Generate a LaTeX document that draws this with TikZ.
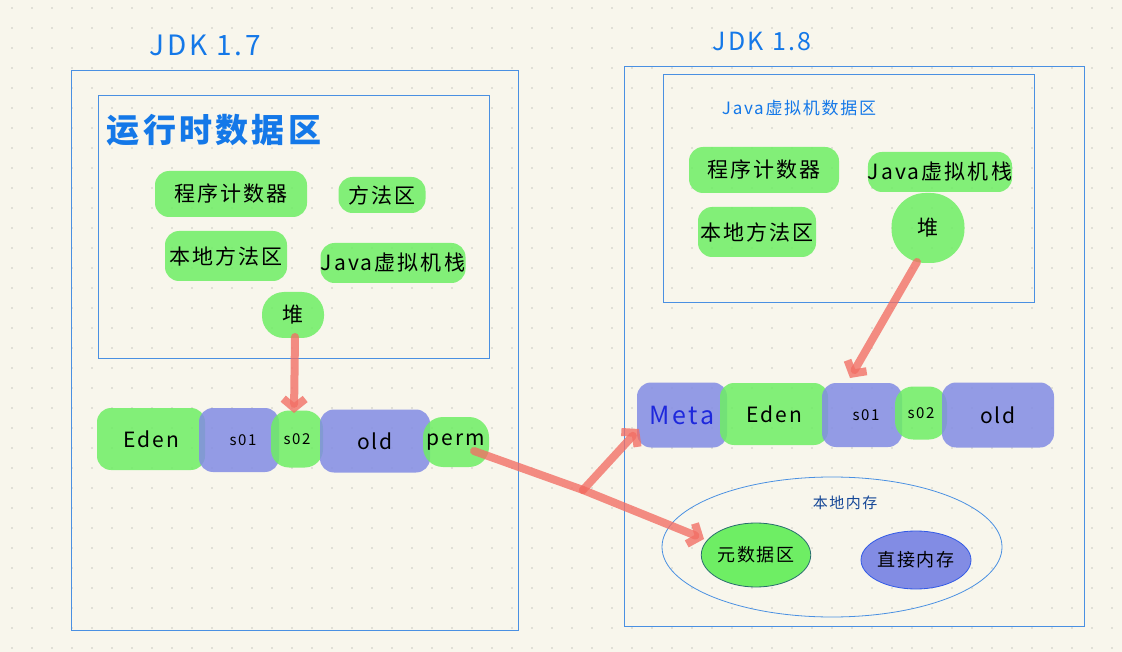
\documentclass[tikz,border=0pt]{standalone}
\usepackage{fontspec}
\setmainfont{Noto Sans CJK SC}
\newfontfamily\hand[LetterSpace=10]{Noto Sans CJK SC}
\usetikzlibrary{arrows.meta,shapes.geometric}
\definecolor{paper}{RGB}{248,246,236}
\definecolor{griddot}{RGB}{200,200,192}
\definecolor{boxblue}{RGB}{74,144,226}
\definecolor{titleblue}{RGB}{20,120,232}
\definecolor{hlgreen}{RGB}{110,238,100}
\definecolor{hlblue}{RGB}{130,140,228}
\definecolor{arrowred}{RGB}{242,110,100}
\definecolor{metablue}{RGB}{30,40,220}
\definecolor{navy}{RGB}{20,70,150}
\definecolor{rimgreen}{RGB}{40,110,110}
\definecolor{rimblue}{RGB}{50,90,230}
\tikzset{
  box/.style={draw=boxblue, line width=0.9pt, inner sep=0pt},
  gblob/.style={fill=hlgreen, fill opacity=0.85, text opacity=1, rounded corners=14pt, inner sep=0pt, text=black, font=\hand\fontsize{21}{23}\selectfont},
  bblob/.style={fill=hlblue, fill opacity=0.85, text opacity=1, rounded corners=14pt, inner sep=0pt, text=black, font=\hand\fontsize{21}{23}\selectfont},
  small/.style={font=\hand\fontsize{15}{17}\selectfont},
  title/.style={text=titleblue, inner sep=0pt},
  redarrow/.style={draw=arrowred, line width=8pt, line cap=round, line join=round, draw opacity=0.78, -{Straight Barb[length=9pt,width=22pt]}},
  redline/.style={draw=arrowred, line width=8pt, line cap=round, draw opacity=0.78}
}
\begin{document}
\begin{tikzpicture}[x=1pt,y=-1pt]
\useasboundingbox (0,0) rectangle (1122,652);
\fill[paper] (0,0) rectangle (1122,652);
\foreach \i in {0,...,55} {\foreach \j in {0,...,32} {\fill[griddot] (12+20*\i, 8+20*\j) circle (0.9pt);}}

% ---------------- JDK 1.7 ----------------
\node[title, font=\hand\fontsize{28}{30}\selectfont] (jdk7) at (205,45) {JDK 1.7};
\node[box, minimum width=447pt, minimum height=560pt] (outer7) at (294.5,350) {};
\node[box, minimum width=391pt, minimum height=263pt] (inner7) at (293.5,226.5) {};
\node[title, font=\hand\fontsize{33}{35}\selectfont\bfseries] (rt7) at (214,130) {运行时数据区};

\node[gblob, minimum width=152pt, minimum height=46pt] (pc7) at (231,194) {程序计数器};
\node[gblob, minimum width=87pt, minimum height=36pt] (ma7) at (382,195) {方法区};
\node[gblob, minimum width=122pt, minimum height=50pt] (nm7) at (226,256) {本地方法区};
\node[gblob, minimum width=145pt, minimum height=40pt] (vs7) at (393,263) {Java虚拟机栈};
\node[gblob, minimum width=62pt, minimum height=46pt, rounded corners=22pt] (heap7) at (293,315) {堆};

\node[gblob, minimum width=108pt, minimum height=62pt] (eden7) at (151,439) {Eden};
\node[bblob, small, minimum width=80pt, minimum height=64pt] (s017) at (239,440) {\hspace*{8pt}s01};
\node[gblob, small, minimum width=52pt, minimum height=57pt, rounded corners=18pt] (s027) at (297,439) {s02};
\node[bblob, minimum width=110pt, minimum height=63pt] (old7) at (375,441) {old};
\node[gblob, minimum width=66pt, minimum height=50pt, rounded corners=20pt] (perm7) at (456,442) {perm};

% ---------------- JDK 1.8 ----------------
\node[title, font=\hand\fontsize{25}{27}\selectfont] (jdk8) at (762,42) {JDK 1.8};
\node[box, minimum width=460pt, minimum height=560pt] (outer8) at (854,346) {};
\node[box, minimum width=371pt, minimum height=228pt] (inner8) at (848.5,188) {};
\node[title, font=\hand\fontsize{17}{19}\selectfont] (jvm8) at (799,108) {Java虚拟机数据区};

\node[gblob, minimum width=150pt, minimum height=46pt] (pc8) at (764,170) {程序计数器};
\node[gblob, minimum width=140pt, minimum height=40pt] (vs8) at (940,172) {Java虚拟机栈};
\node[gblob, minimum width=118pt, minimum height=50pt] (nm8) at (757,232) {本地方法区};
\node[gblob, minimum width=73pt, minimum height=70pt, rounded corners=34pt] (heap8) at (928,228) {堆};

\node[bblob, minimum width=90pt, minimum height=65pt, text=metablue, font=\hand\fontsize{25}{27}\selectfont] (meta8) at (682,415) {Meta};
\node[gblob, minimum width=108pt, minimum height=62pt] (eden8) at (774,414) {Eden};
\node[bblob, small, minimum width=80pt, minimum height=64pt] (s018) at (862,415) {\hspace*{8pt}s01};
\node[gblob, small, minimum width=52pt, minimum height=53pt, rounded corners=18pt] (s028) at (921,413) {s02};
\node[bblob, minimum width=112pt, minimum height=65pt] (old8) at (998,415) {old};

\node[draw=boxblue, line width=0.8pt, ellipse, minimum width=340pt, minimum height=140pt] (native8) at (832,547) {};
\node[text=navy, font=\hand\fontsize{15}{17}\selectfont, inner sep=0pt] (nlabel8) at (845,503) {本地内存};
\node[ellipse, fill=hlgreen, draw=rimgreen, line width=0.8pt, minimum width=102pt, minimum height=64pt, inner sep=0pt, font=\hand\fontsize{18}{20}\selectfont] (md8) at (756,555) {元数据区};
\node[ellipse, fill=hlblue, draw=rimblue, line width=0.8pt, minimum width=110pt, minimum height=58pt, inner sep=0pt, font=\hand\fontsize{18}{20}\selectfont] (dm8) at (916,560) {直接内存};

% ---------------- arrows ----------------
\coordinate (h7a) at (295,337);
\coordinate (h7b) at (294,413);
\draw[redarrow] (h7a) -- (h7b);

\coordinate (h8a) at (917,262);
\coordinate (h8b) at (850,378);
\draw[redarrow] (h8a) -- (h8b);

\coordinate (pstart) at (474,451);
\coordinate (fork) at (583,490);
\coordinate (metain) at (639,429);
\coordinate (mdin) at (704,539);
\draw[redline] (pstart) -- (fork);
\draw[redarrow] (fork) -- (metain);
\draw[redarrow] (fork) -- (mdin);
\end{tikzpicture}
\end{document}
